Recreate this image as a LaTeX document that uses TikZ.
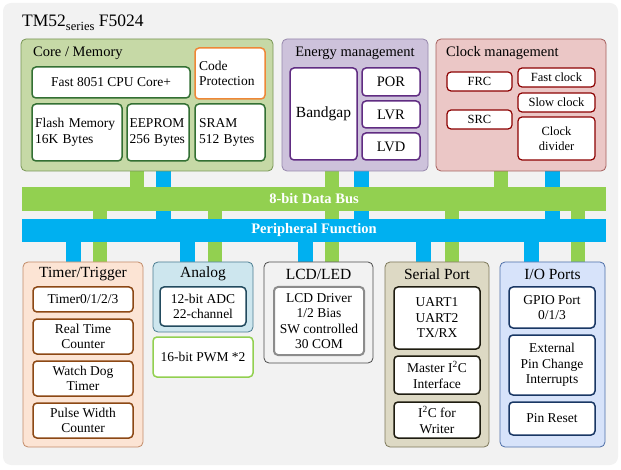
\documentclass[tikz,border=0pt]{standalone}
\usepackage{fontspec}
\setmainfont{Liberation Serif}
\usepackage{tikz}
\usetikzlibrary{backgrounds}
\newcommand{\blkfont}{\fontsize{13.5}{15.5}\selectfont}
\newcommand{\hdfont}{\fontsize{14.5}{16}\selectfont}
\definecolor{busgreen}{HTML}{92D050}
\definecolor{busblue}{HTML}{00B0F0}
\definecolor{pagegray}{HTML}{F2F2F2}

\begin{document}
\begin{tikzpicture}[x=1pt, y=-1pt,
    sect/.style={draw, rounded corners=5pt, line width=0.8pt},
    unit/.style={draw, fill=white, rounded corners=4pt, line width=1.5pt, align=center, inner sep=0pt, font=\blkfont},
    head/.style={inner sep=0pt, font=\hdfont},
    lowhead/.style={inner sep=0pt, font=\fontsize{15.5}{17}\selectfont},
    bus/.style={minimum width=584pt, inner sep=0pt, text=white, font=\fontsize{14.5}{16}\selectfont\bfseries},
    gwire/.style={line width=14pt, draw=busgreen},
    bwire/.style={line width=15pt, draw=busblue}]
    \useasboundingbox (0,0) rectangle (621,470);

    \node[anchor=base west, inner sep=0pt, font=\fontsize{17.5}{20}\selectfont] (title) at (22,27)
        {TM52\raisebox{-4pt}{\fontsize{12.5}{12}\selectfont series} F5024};

    % core / memory
    \node[sect, fill={rgb,255:red,198;green,217;blue,166}, draw={rgb,255:red,120;green,150;blue,85}, minimum width=252pt, minimum height=132pt] (core) at (147,105) {};
    \node[head, anchor=west] (corehd) at (33,53) {Core / Memory};
    \node[unit, draw=green!30!black!80, minimum width=158pt, minimum height=31pt] (cpu) at (111,82.5) {Fast 8051 CPU Core+};
    \node[unit, draw={rgb,255:red,238;green,135;blue,55}, minimum width=70pt, minimum height=51pt, align=left, text width=62pt] (codep) at (230,73.5) {Code\\Protection};
    \node[unit, draw=green!30!black!80, minimum width=90pt, minimum height=57pt, align=left, text width=84pt] (flash) at (77,132.5) {Flash Memory\\16K Bytes};
    \node[unit, draw=green!30!black!80, minimum width=62pt, minimum height=57pt, align=left, text width=57pt] (eeprom) at (158,132.5) {EEPROM\\256 Bytes};
    \node[unit, draw=green!30!black!80, minimum width=70pt, minimum height=57pt, align=left, text width=62pt] (sram) at (230,132.5) {SRAM\\512 Bytes};

    % energy management
    \node[sect, fill={rgb,255:red,205;green,194;blue,219}, draw={rgb,255:red,150;green,135;blue,172}, minimum width=146pt, minimum height=132pt] (energy) at (355,105) {};
    \node[head] (energyhd) at (355,53) {Energy management};
    \node[unit, draw={rgb,255:red,96;green,44;blue,130}, minimum width=67pt, minimum height=92pt, font=\fontsize{15.5}{17}\selectfont] (bandgap) at (323.5,114) {Bandgap};
    \node[unit, draw={rgb,255:red,96;green,44;blue,130}, minimum width=58pt, minimum height=28pt, font=\fontsize{14.5}{16}\selectfont] (por) at (391,82) {POR};
    \node[unit, draw={rgb,255:red,96;green,44;blue,130}, minimum width=58pt, minimum height=27pt, font=\fontsize{14.5}{16}\selectfont] (lvr) at (391,114.5) {LVR};
    \node[unit, draw={rgb,255:red,96;green,44;blue,130}, minimum width=58pt, minimum height=27pt, font=\fontsize{14.5}{16}\selectfont] (lvd) at (391,146.5) {LVD};

    % clock management
    \node[sect, fill={rgb,255:red,235;green,199;blue,198}, draw={rgb,255:red,165;green,95;blue,93}, minimum width=170pt, minimum height=132pt] (clock) at (521,105) {};
    \node[head, anchor=west] (clockhd) at (446,53) {Clock management};
    \node[unit, draw=red!55!black, line width=1.2pt, minimum width=65pt, minimum height=19pt, font=\fontsize{12.5}{14}\selectfont] (frc) at (479.5,81.5) {FRC};
    \node[unit, draw=red!55!black, line width=1.2pt, minimum width=65pt, minimum height=19pt, font=\fontsize{12.5}{14}\selectfont] (src) at (479.5,119.5) {SRC};
    \node[unit, draw=red!55!black, line width=1.2pt, minimum width=77pt, minimum height=19pt, font=\fontsize{12.5}{14}\selectfont] (fastclk) at (556.5,77.5) {Fast clock};
    \node[unit, draw=red!55!black, line width=1.2pt, minimum width=77pt, minimum height=19pt, font=\fontsize{12.5}{14}\selectfont] (slowclk) at (556.5,102.5) {Slow clock};
    \node[unit, draw=red!55!black, line width=1.2pt, minimum width=77pt, minimum height=43pt, font=\fontsize{12.5}{15.5}\selectfont] (clkdiv) at (556.5,138.5) {Clock\\divider};

    % buses
    \node[bus, fill=busgreen, minimum height=24pt] (dbus) at (314,199) {8-bit Data Bus};
    \node[bus, fill=busblue, minimum height=23pt] (pbus) at (314,230.5) {Peripheral Function};

    % timer / trigger
    \node[sect, fill={rgb,255:red,252;green,228;blue,212}, draw={rgb,255:red,195;green,140;blue,105}, minimum width=120pt, minimum height=185pt] (timer) at (83,354.5) {};
    \node[lowhead] (timerhd) at (83,274) {Timer/Trigger};
    \node[unit, draw={rgb,255:red,140;green,72;blue,20}, minimum width=100pt, minimum height=25pt] (tmr) at (83,299.5) {Timer0/1/2/3};
    \node[unit, draw={rgb,255:red,140;green,72;blue,20}, minimum width=100pt, minimum height=35pt, font=\fontsize{13.5}{14.5}\selectfont] (rtc) at (83,336.5) {Real Time\\Counter};
    \node[unit, draw={rgb,255:red,140;green,72;blue,20}, minimum width=100pt, minimum height=35pt, font=\fontsize{13.5}{14.5}\selectfont] (wdt) at (83,378.5) {Watch Dog\\Timer};
    \node[unit, draw={rgb,255:red,140;green,72;blue,20}, minimum width=100pt, minimum height=35pt, font=\fontsize{13.5}{14.5}\selectfont] (pwc) at (83,420.5) {Pulse Width\\Counter};

    % analog
    \node[sect, fill={rgb,255:red,205;green,230;blue,238}, draw={rgb,255:red,75;green,125;blue,145}, minimum width=100pt, minimum height=70pt] (analog) at (203,297) {};
    \node[lowhead] (analoghd) at (203,274) {Analog};
    \node[unit, draw={rgb,255:red,35;green,75;blue,95}, minimum width=86pt, minimum height=39pt, font=\fontsize{13.5}{14.5}\selectfont] (adc) at (203,306.5) {12-bit ADC\\22-channel};
    \node[unit, draw=busgreen, minimum width=100pt, minimum height=40pt] (pwm) at (203,357) {16-bit PWM *2};

    % lcd / led
    \node[sect, fill=pagegray, draw=black!70, minimum width=109pt, minimum height=101pt] (lcd) at (318.5,312.5) {};
    \node[lowhead] (lcdhd) at (318.5,274) {LCD/LED};
    \node[unit, draw=black!45, line width=2pt, minimum width=90pt, minimum height=68pt] (lcddrv) at (319,321) {LCD Driver\\1/2 Bias\\SW controlled\\30 COM};

    % serial port
    \node[sect, fill={rgb,255:red,221;green,217;blue,196}, draw={rgb,255:red,125;green,120;blue,90}, minimum width=104pt, minimum height=185pt] (serial) at (437,354.5) {};
    \node[lowhead] (serialhd) at (437,274) {Serial Port};
    \node[unit, draw={rgb,255:red,30;green,28;blue,16}, minimum width=86pt, minimum height=62pt] (uart) at (437,318) {UART1\\UART2\\TX/RX};
    \node[unit, draw={rgb,255:red,30;green,28;blue,16}, minimum width=86pt, minimum height=38pt] (mi2c) at (437,375) {Master I\textsuperscript{2}C\\Interface};
    \node[unit, draw={rgb,255:red,30;green,28;blue,16}, minimum width=86pt, minimum height=36pt] (wi2c) at (437,420) {I\textsuperscript{2}C for\\Writer};

    % i/o ports
    \node[sect, fill={rgb,255:red,215;green,227;blue,250}, draw={rgb,255:red,78;green,111;blue,168}, minimum width=105pt, minimum height=185pt] (io) at (552.5,354.5) {};
    \node[lowhead] (iohd) at (552.5,274) {I/O Ports};
    \node[unit, draw={rgb,255:red,25;green,55;blue,100}, minimum width=86pt, minimum height=41pt] (gpio) at (552,307.5) {GPIO Port\\0/1/3};
    \node[unit, draw={rgb,255:red,25;green,55;blue,100}, minimum width=86pt, minimum height=60pt] (epci) at (552,365) {External\\Pin Change\\Interrupts};
    \node[unit, draw={rgb,255:red,25;green,55;blue,100}, minimum width=86pt, minimum height=33pt] (pinrst) at (552,418.5) {Pin Reset};

    % page and connections to the buses
    \begin{scope}[on background layer]
        \fill[pagegray, rounded corners=8pt] (3,3) rectangle (618,465);

        \draw[gwire] ([xshift=-10.5pt]core.south) -- ([xshift=-10.5pt]core.south |- dbus.north);
        \draw[bwire] ([xshift=16pt]core.south) -- ([xshift=16pt]core.south |- pbus.north);
        \draw[gwire] ([xshift=-23pt]energy.south) -- ([xshift=-23pt]energy.south |- dbus.north);
        \draw[bwire] ([xshift=6.5pt]energy.south) -- ([xshift=6.5pt]energy.south |- pbus.north);
        \draw[gwire] ([xshift=-20.5pt]clock.south) -- ([xshift=-20.5pt]clock.south |- dbus.north);
        \draw[bwire] ([xshift=31.5pt]clock.south) -- ([xshift=31.5pt]clock.south |- pbus.north);

        \draw[bwire] ([xshift=-10pt]timer.north) -- ([xshift=-10pt]timer.north |- pbus.south);
        \draw[gwire] ([xshift=16.5pt]timer.north) -- ([xshift=16.5pt]timer.north |- dbus.south);
        \draw[bwire] ([xshift=-15.5pt]analog.north) -- ([xshift=-15.5pt]analog.north |- pbus.south);
        \draw[gwire] ([xshift=11.5pt]analog.north) -- ([xshift=11.5pt]analog.north |- dbus.south);
        \draw[bwire] ([xshift=-13pt]lcd.north) -- ([xshift=-13pt]lcd.north |- pbus.south);
        \draw[gwire] ([xshift=13.5pt]lcd.north) -- ([xshift=13.5pt]lcd.north |- dbus.south);
        \draw[bwire] ([xshift=-13.5pt]serial.north) -- ([xshift=-13.5pt]serial.north |- pbus.south);
        \draw[gwire] ([xshift=15pt]serial.north) -- ([xshift=15pt]serial.north |- dbus.south);
        \draw[bwire] ([xshift=-21pt]io.north) -- ([xshift=-21pt]io.north |- pbus.south);
        \draw[gwire] ([xshift=25pt]io.north) -- ([xshift=25pt]io.north |- dbus.south);
    \end{scope}
\end{tikzpicture}
\end{document}
